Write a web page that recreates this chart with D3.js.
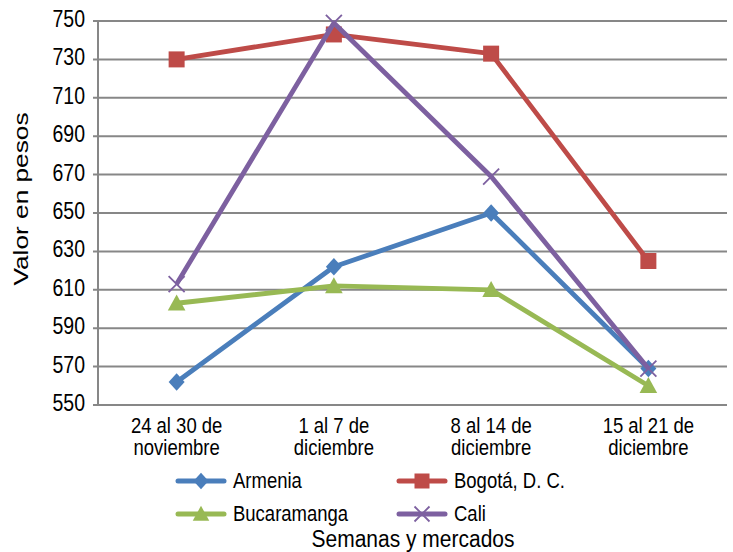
<!DOCTYPE html>
<html><head><meta charset="utf-8">
<script src="https://cdn.jsdelivr.net/npm/d3@7"></script>
<style>body{margin:0;background:#fff}svg{display:block;font-family:"Liberation Sans",Arial,sans-serif}</style>
</head><body><svg id="c" width="733" height="552"></svg>
<script>
const categories = [["24 al 30 de","noviembre"],["1 al 7 de","diciembre"],["8 al 14 de","diciembre"],["15 al 21 de","diciembre"]];
const seriesNames = ["Armenia","Bogotá, D. C.","Bucaramanga","Cali"];
const armenia = [562, 622, 650, 569];
const bogota = [730, 743, 733, 625];
const bucaramanga = [603, 612, 610, 560];
const cali = [613, 749, 669, 569];
const yTicks = [550,570,590,610,630,650,670,690,710,730,750];
const colors = ["#4a7ebb","#be4b48","#98b954","#7d60a0"];
const markers = ["diamond","square","triangle","x"];

const series = [armenia, bogota, bucaramanga, cali];
const svg = d3.select("#c");
const L=98, R=727, T=21, B=405;
const x = d3.scaleBand().domain(d3.range(categories.length)).range([L,R]);
const y = d3.scaleLinear().domain([550,750]).range([B,T]);

function txt(px, py, s, size, anchor, sy){
  return svg.append("text").attr("transform",`translate(${px},${py}) scale(1,${sy||1.2})`)
    .attr("text-anchor",anchor||"start").attr("font-size",size).attr("fill","#000").text(s);
}

// gridlines
svg.append("g").selectAll("line").data(yTicks).join("line")
  .attr("x1",L-5).attr("x2",R).attr("y1",d=>y(d)).attr("y2",d=>y(d))
  .attr("stroke","#878787").attr("stroke-width",2);
svg.append("line").attr("x1",L).attr("x2",L).attr("y1",T).attr("y2",B).attr("stroke","#878787").attr("stroke-width",2);
// y labels
yTicks.forEach(d=>txt(L-13, y(d)+6, d, 19.5, "end"));
// x labels
categories.forEach((c,i)=>{
  c.forEach((s,j)=>txt(x(i)+x.bandwidth()/2, 433+j*22, s, 18.5, "middle"));
});

// axis titles
svg.append("text").attr("transform","translate(28,199) rotate(-90) scale(1.25,1)").attr("text-anchor","middle")
  .attr("font-size",21).attr("fill","#000").text("Valor en pesos");
txt(413, 547, "Semanas y mercados", 21, "middle", 1.1);

function drawMarker(g, type, cx, cy, color, s){
  if(type==="diamond"){
    g.append("path").attr("d",`M${cx},${cy-s*0.55}L${cx+s*0.5},${cy}L${cx},${cy+s*0.55}L${cx-s*0.5},${cy}Z`).attr("fill",color);
  } else if(type==="square"){
    g.append("rect").attr("x",cx-s/2).attr("y",cy-s/2).attr("width",s).attr("height",s).attr("fill",color);
  } else if(type==="triangle"){
    g.append("path").attr("d",`M${cx},${cy-s*0.55}L${cx+s*0.55},${cy+s*0.45}L${cx-s*0.55},${cy+s*0.45}Z`).attr("fill",color);
  } else {
    const h=s*0.5;
    g.append("path").attr("d",`M${cx-h},${cy-h}L${cx+h},${cy+h}M${cx+h},${cy-h}L${cx-h},${cy+h}`).attr("stroke",color).attr("stroke-width",1.8);
  }
}

const line = d3.line().x((d,i)=>x(i)+x.bandwidth()/2).y(d=>y(d));
series.forEach((s,k)=>{
  const g = svg.append("g");
  g.append("path").datum(s).attr("d",line).attr("fill","none").attr("stroke",colors[k])
    .attr("stroke-width",4.8).attr("stroke-linejoin","round");
  s.forEach((v,i)=>drawMarker(g, markers[k], x(i)+x.bandwidth()/2, y(v), colors[k], 16));
});

// legend
const legPos = [[178,481],[399,481],[178,514],[399,514]];
seriesNames.forEach((n,k)=>{
  const [lx,ly]=legPos[k];
  const g=svg.append("g");
  g.append("line").attr("x1",lx).attr("x2",lx+46).attr("y1",ly).attr("y2",ly).attr("stroke",colors[k]).attr("stroke-width",5).attr("stroke-linecap","round");
  drawMarker(g, markers[k], lx+23, ly, colors[k], 15);
  txt(lx+55, ly+7, n, 18.5, "start");
});
</script></body></html>
